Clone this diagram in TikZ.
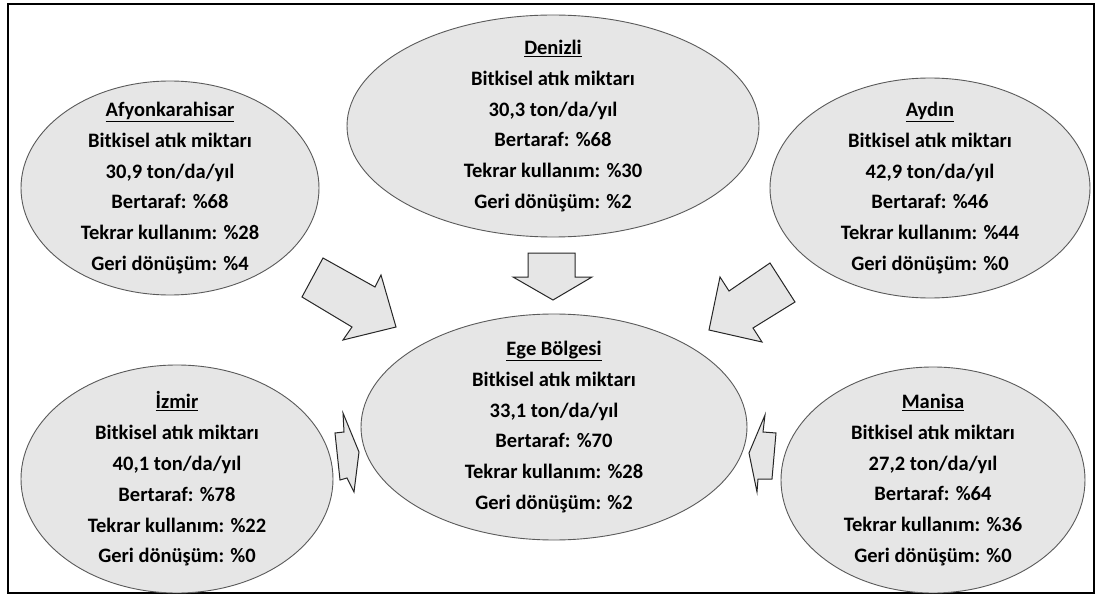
\documentclass[tikz,border=0pt]{standalone}
\usepackage{fontspec}
\setmainfont{Carlito}
\usetikzlibrary{shapes.geometric}
\definecolor{ellfill}{HTML}{E6E6E6}
\definecolor{ellline}{HTML}{5A5A5A}
\definecolor{arrline}{HTML}{262626}
\tikzset{
  region/.style={ellipse, draw=ellline, line width=0.9pt, fill=ellfill, inner sep=0pt},
  regiontext/.style={align=center, inner sep=0pt, font=\fontsize{20.5}{30.8}\selectfont\bfseries},
  blockarrow/.style={draw=arrline, line width=1pt, fill=ellfill, line join=miter}
}
\newcommand{\ttl}[1]{\underline{#1}}
\begin{document}
\begin{tikzpicture}[x=1pt,y=-1pt]
\useasboundingbox (0,0) rectangle (1104,599);
\fill[white] (0,0) rectangle (1104,599);
\draw[line width=1.6pt] (8,4) rectangle (1094,593);

% ellipses
\node[region, minimum width=298pt, minimum height=214pt] (afy) at (170,188) {};
\node[region, minimum width=412pt, minimum height=222pt] (den) at (553,126) {};
\node[region, minimum width=320pt, minimum height=220pt] (ayd) at (930,188) {};
\node[region, minimum width=386pt, minimum height=226pt] (ege) at (554,427) {};
\node[region, minimum width=312pt, minimum height=228pt] (izm) at (177,479) {};
\node[region, minimum width=304pt, minimum height=226pt] (man) at (933,480) {};

% texts
\node[regiontext] (afyT) at (afy) {\ttl{Afyonkarahisar}\\Bitkisel atık miktarı\\30,9 ton/da/yıl\\Bertaraf: \%68\\Tekrar kullanım: \%28\\Geri dönüşüm: \%4};
\node[regiontext] (denT) at (den) {\ttl{Denizli}\\Bitkisel atık miktarı\\30,3 ton/da/yıl\\Bertaraf: \%68\\Tekrar kullanım: \%30\\Geri dönüşüm: \%2};
\node[regiontext] (aydT) at (ayd) {\ttl{Aydın}\\Bitkisel atık miktarı\\42,9 ton/da/yıl\\Bertaraf: \%46\\Tekrar kullanım: \%44\\Geri dönüşüm: \%0};
\node[regiontext] (egeT) at (ege) {\ttl{Ege Bölgesi}\\Bitkisel atık miktarı\\33,1 ton/da/yıl\\Bertaraf: \%70\\Tekrar kullanım: \%28\\Geri dönüşüm: \%2};
\node[regiontext] (izmT) at (izm) {\ttl{İzmir}\\Bitkisel atık miktarı\\40,1 ton/da/yıl\\Bertaraf: \%78\\Tekrar kullanım: \%22\\Geri dönüşüm: \%0};
\node[regiontext] (manT) at (man) {\ttl{Manisa}\\Bitkisel atık miktarı\\27,2 ton/da/yıl\\Bertaraf: \%64\\Tekrar kullanım: \%36\\Geri dönüşüm: \%0};

% block arrows
\draw[blockarrow] (323,258) -- (375,287) -- (381,275) -- (396,327) -- (343,340) -- (352,327) -- (302,297) -- cycle;
\draw[blockarrow] (528,253) -- (575,253) -- (575,277) -- (592,277) -- (553,300) -- (513,277) -- (528,277) -- cycle;
\draw[blockarrow] (770,263) -- (795,302) -- (753,328) -- (762,342) -- (709,330) -- (720,277) -- (729,291) -- cycle;
\draw[blockarrow] (335,433) -- (344,432) -- (343,413) -- (359,452) -- (354,492) -- (347,478) -- (340,480) -- cycle;
\draw[blockarrow] (776,433) -- (763,432) -- (765,415) -- (749,453) -- (757,492) -- (758,479) -- (772,479) -- cycle;
\end{tikzpicture}
\end{document}
